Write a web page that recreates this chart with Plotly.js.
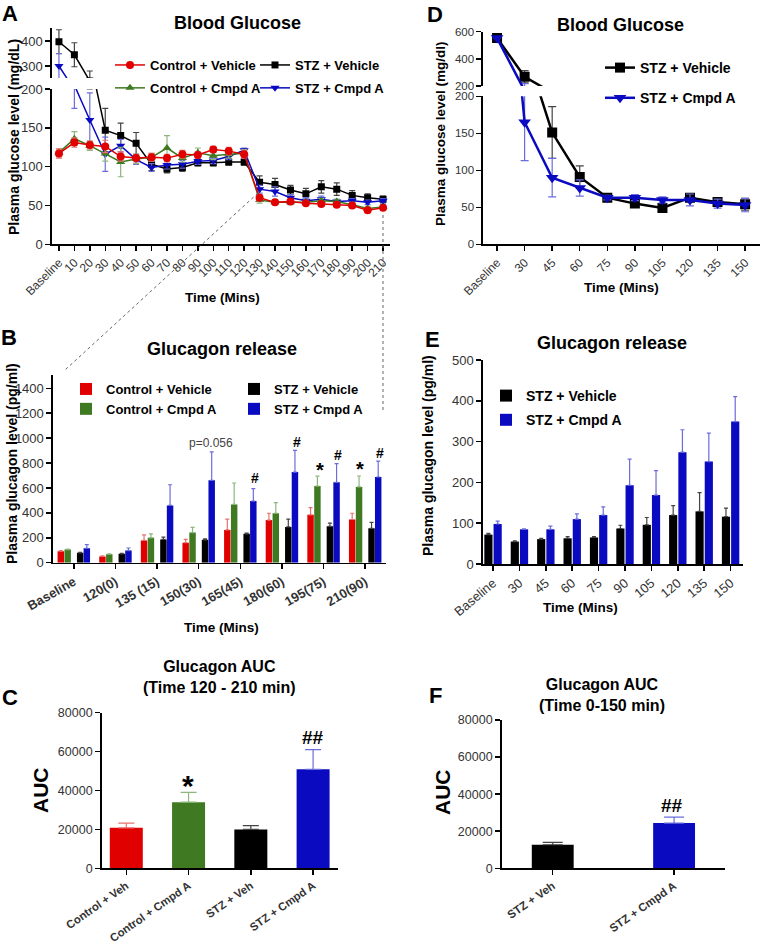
<!DOCTYPE html>
<html><head><meta charset="utf-8">
<script src="https://cdn.plot.ly/plotly-3.0.1.min.js"></script>
<style>html,body{margin:0;padding:0;background:#fff}#chart{width:761px;height:947px}</style>
</head><body><div id="chart"></div>
<script>
// ---------- Panel A: Blood glucose (time course) ----------
const aTimes = ['Baseline','10','20','30','40','50','60','70','80','90','100','110','120','130','140','150','160','170','180','190','200','210'];
const aCtrlVeh    = [117,131,128,126,113,111,112,111,116,115,122,120,116,60,54,55,53,52,51,50,44,47];
const aCtrlVehErr = [6,6,5,8,6,5,5,5,5,4,4,5,5,4,3,3,3,3,3,3,3,3];
const aCtrlCmp    = [118,136,127,117,106,110,112,124,111,118,114,116,117,57,54,54,54,56,55,51,46,48];
const aCtrlCmpErr = [5,9,6,10,19,6,5,16,5,6,5,5,5,4,3,3,3,3,3,3,3,3];
const aStzVeh     = [397,345,240,147,140,130,103,97,99,105,105,106,106,80,77,70,65,74,71,63,60,58];
const aStzVehErr  = [48,48,40,28,16,14,8,5,5,4,4,4,4,8,8,6,7,8,8,6,5,4];
const aStzCmp     = [300,205,160,116,127,109,99,102,103,107,108,113,121,71,68,60,56,58,55,56,54,56];
const aStzCmpErr  = [50,30,35,22,8,6,5,5,5,4,4,4,3,5,6,4,4,4,3,3,3,3];

// ---------- Panel D: Blood glucose (STZ) ----------
const dTimes = ['Baseline','30','45','60','75','90','105','120','135','150'];
const dStzVeh    = [553,268,151,91,63,55,49,63,57,54];
const dStzVehErr = [0,45,35,15,3,4,4,4,4,8];
const dStzCmp    = [553,165,90,76,63,63,60,60,55,53];
const dStzCmpErr = [0,52,26,11,3,4,4,8,6,9];

// ---------- Panel B: Glucagon release ----------
const bTimes = ['Baseline','120(0)','135 (15)','150(30)','165(45)','180(60)','195(75)','210(90)'];
const bCtrlVeh    = [92,50,179,160,263,342,384,347];
const bCtrlVehErr = [5,5,45,27,87,55,58,50];
const bCtrlCmp    = [105,68,200,242,468,397,615,608];
const bCtrlCmpErr = [4,4,32,42,172,85,80,88];
const bStzVeh     = [79,71,187,184,232,287,292,276];
const bStzVehErr  = [5,4,18,8,5,63,26,48];
const bStzCmp     = [116,97,460,662,495,728,645,688];
const bStzCmpErr  = [29,21,166,227,100,174,150,128];

// ---------- Panel E: Glucagon release (STZ) ----------
const eTimes = ['Baseline','30','45','60','75','90','105','120','135','150'];
const eStzVeh    = [72,55,61,63,65,87,96,120,129,116];
const eStzVehErr = [3,2,2,4,2,8,18,23,46,21];
const eStzCmp    = [98,85,85,110,120,193,169,274,251,349];
const eStzCmpErr = [7,1,8,13,20,64,60,55,70,61];

// ---------- Panel C / F: AUC ----------
const cCats = ['Control + Veh','Control + Cmpd A','STZ + Veh','STZ + Cmpd A'];
const cVals = [20800,34000,20000,50900];
const cErr  = [2400,5000,1900,10100];
const fCats = ['STZ + Veh','STZ + Cmpd A'];
const fVals = [12700,24400];
const fErr  = [1300,3200];

// ---------- styling ----------
const W=761,H=947;
const X=p=>p/W, Y=p=>1-p/H;
const FONT='Liberation Sans, Arial, Helvetica, sans-serif';
const RED='#E00000', GREEN='#3F7A22', BLUE='#0A0AC0', BLACK='#000000';
const RED_E='#E87070', GREEN_E='#8DB57C', BLUE_E='#6C6CDC', BLACK_E='#444444';
const cColors=[RED,GREEN,BLACK,BLUE], cErrColors=[RED_E,GREEN_E,BLACK_E,BLUE_E];
const fColors=[BLACK,BLUE], fErrColors=[BLACK_E,BLUE_E];

const traces=[];
function lineTr(name,xs,ys,err,color,ecolor,symbol,msize,lw,xa,ya,leg,show,rank,capw){
  return {type:'scatter',mode:'lines+markers',name:name,x:xs,y:ys,xaxis:xa,yaxis:ya,
    line:{color:color,width:lw},marker:{color:color,symbol:symbol,size:msize},
    error_y:{type:'data',array:err,visible:true,color:ecolor,thickness:1.2,width:capw},
    showlegend:show,legend:leg,legendgroup:name+leg,legendrank:rank,cliponaxis:true};
}
// Panel A: lower and upper (broken axis) segments
const aSeries=[
  ['STZ + Vehicle',aStzVeh,aStzVehErr,BLACK,BLACK_E,'square',7,'legend2',1],
  ['STZ + Cmpd A',aStzCmp,aStzCmpErr,BLUE,BLUE_E,'triangle-down',8,'legend2',2],
  ['Control + Cmpd A',aCtrlCmp,aCtrlCmpErr,GREEN,GREEN_E,'triangle-up',8,'legend',2],
  ['Control + Vehicle',aCtrlVeh,aCtrlVehErr,RED,RED_E,'circle',8,'legend',1]
];
aSeries.forEach(s=>{
  traces.push(lineTr(s[0],aTimes,s[1],s[2],s[3],s[4],s[5],s[6],1.5,'x','y',s[7],true,s[8],3));
  traces.push(lineTr(s[0],aTimes,s[1],s[2],s[3],s[4],s[5],s[6],1.5,'x2','y2',s[7],false,s[8],3));
});
// Panel D
const dSeries=[
  ['STZ + Vehicle',dStzVeh,dStzVehErr,BLACK,BLACK_E,'square',10,1],
  ['STZ + Cmpd A',dStzCmp,dStzCmpErr,BLUE,BLUE_E,'triangle-down',11,2]
];
dSeries.forEach(s=>{
  traces.push(lineTr(s[0],dTimes,s[1],s[2],s[3],s[4],s[5],s[6],2.5,'x3','y3','legend3',true,s[7],4));
  traces.push(lineTr(s[0],dTimes,s[1],s[2],s[3],s[4],s[5],s[6],2.5,'x4','y4','legend3',false,s[7],4));
});
// Bars
function barTr(name,xs,ys,err,color,ecolor,xa,ya,leg,offset,width,rank,capw){
  return {type:'bar',name:name,x:xs,y:ys,xaxis:xa,yaxis:ya,offset:offset,width:width,
    marker:{color:color,line:{width:0}},
    error_y:{type:'data',symmetric:false,array:err,arrayminus:err.map(()=>0),color:ecolor,thickness:1.2,width:capw},
    showlegend:!!leg,legend:leg||'legend',legendgroup:name+(leg||''),legendrank:rank};
}
traces.push(barTr('Control + Vehicle',bTimes,bCtrlVeh,bCtrlVehErr,RED,RED_E,'x5','y5','legend4',-0.39,0.155,1,2));
traces.push(barTr('Control + Cmpd A',bTimes,bCtrlCmp,bCtrlCmpErr,GREEN,GREEN_E,'x5','y5','legend4',-0.225,0.155,2,2));
traces.push(barTr('STZ + Vehicle',bTimes,bStzVeh,bStzVehErr,BLACK,BLACK_E,'x5','y5','legend5',0.075,0.155,1,2));
traces.push(barTr('STZ + Cmpd A',bTimes,bStzCmp,bStzCmpErr,BLUE,BLUE_E,'x5','y5','legend5',0.235,0.155,2,2));
traces.push(barTr('STZ + Vehicle',eTimes,eStzVeh,eStzVehErr,BLACK,BLACK_E,'x6','y6','legend6',-0.33,0.31,1,2));
traces.push(barTr('STZ + Cmpd A',eTimes,eStzCmp,eStzCmpErr,BLUE,BLUE_E,'x6','y6','legend6',0.02,0.31,2,2));
cCats.forEach((c,i)=>{
  traces.push(barTr(c,[c],[cVals[i]],[cErr[i]],cColors[i],cErrColors[i],'x7','y7',null,-0.265,0.53,i,8));
});
fCats.forEach((c,i)=>{
  traces.push(barTr(c,[c],[fVals[i]],[fErr[i]],fColors[i],fErrColors[i],'x8','y8',null,-0.172,0.345,i,10));
});

const tickF=(s,w)=>({family:FONT,size:s,color:'#333',weight:w||'normal'});
function xax(d0,d1,anchor,cats,range,angle,tf,extra){
  return Object.assign({domain:[X(d0),X(d1)],anchor:anchor,type:'category',categoryorder:'array',categoryarray:cats,
    tickmode:'array',tickvals:cats,ticktext:cats,
    range:range,tickangle:angle,tickfont:tf,showline:true,linecolor:'#000',linewidth:1.6,
    ticks:'outside',ticklen:5,tickwidth:1.5,tickcolor:'#000',showgrid:false,zeroline:false,fixedrange:true},extra||{});
}
function yax(p0,p1,anchor,range,tickvals,tf,extra){
  return Object.assign({domain:[Y(p0),Y(p1)],anchor:anchor,range:range,tickvals:tickvals,tickfont:tf,
    showline:true,linecolor:'#000',linewidth:1.6,ticks:'outside',ticklen:5,tickwidth:1.5,tickcolor:'#000',
    showgrid:false,zeroline:false,fixedrange:true},extra||{});
}
const hiddenX=(d0,d1,anchor,cats,range)=>({domain:[X(d0),X(d1)],anchor:anchor,type:'category',categoryorder:'array',
  categoryarray:cats,range:range,visible:false,fixedrange:true});

function ann(text,x,y,size,opts){
  return Object.assign({text:text,x:X(x),y:Y(y),xref:'paper',yref:'paper',showarrow:false,
    xanchor:'center',yanchor:'middle',font:{family:FONT,size:size,color:'#000',weight:'bold'}},opts||{});
}
const legF=(s)=>({family:FONT,size:s,color:'#000',weight:'bold'});
function leg(x,y,s,gap){
  return {x:X(x),y:Y(y),xanchor:'left',yanchor:'top',font:legF(s),bgcolor:'rgba(0,0,0,0)',
    borderwidth:0,tracegroupgap:gap,traceorder:'grouped',itemclick:false,itemdoubleclick:false};
}

const annotations=[
  ann('A',10,13,22), ann('D',435,14,22), ann('B',9,337,22), ann('E',432,339,22), ann('C',10,697,22), ann('F',435,695,22),
  ann('Blood Glucose',237,23,18), ann('Blood Glucose',620,25,18),
  ann('Glucagon release',222,349,18), ann('Glucagon release',612,343,18),
  ann('Glucagon AUC<br>(Time 120 - 210 min)',219,677,16), ann('Glucagon AUC<br>(Time 0-150 min)',602,695,16),
  ann('Plasma glucose level (mg/dL)',14,137,14,{textangle:-90}),
  ann('Plasma glucose level (mg/dl)',440,134,13.5,{textangle:-90}),
  ann('Plasma glucagon level (pg/ml)',12,464,14,{textangle:-90}),
  ann('Plasma glucagon level (pg/ml)',428,456,14,{textangle:-90}),
  ann('AUC',40,790,21,{textangle:-90}), ann('AUC',442,792,21,{textangle:-90}),
  ann('Time (Mins)',222,298,13.5), ann('Time (Mins)',621,287,13.5),
  ann('Time (Mins)',221,627,13.5), ann('Time (Mins)',580,607,13.5),
  ann('p=0.056',211,443,12,{font:{family:FONT,size:12,color:'#444',weight:'normal'}}),
  ann('#',255,478,14), ann('#',297,442,14), ann('#',338,455,14), ann('#',380,453,14),
  ann('*',320,470,20), ann('*',360,469,20),
  ann('*',188,785,30), ann('##',313,737,19), ann('##',672,805,19)
];

const shapes=[
  {type:'line',xref:'paper',yref:'paper',x0:X(258),y0:Y(193),x1:X(65),y1:Y(370),line:{color:'#666',width:1,dash:'dot'}},
  {type:'line',xref:'paper',yref:'paper',x0:X(383),y0:Y(215),x1:X(383),y1:Y(413),line:{color:'#666',width:1,dash:'dot'}}
];

const layout={
  width:W,height:H,margin:{l:0,r:0,t:0,b:0},paper_bgcolor:'#fff',plot_bgcolor:'rgba(0,0,0,0)',
  font:{family:FONT,color:'#000'},barmode:'overlay',showlegend:true,
  xaxis:xax(52,390,'y',aTimes,[-0.45,21.45],-45,tickF(12)),
  yaxis:yax(244.3,89,'x',[0,200],[0,50,100,150,200],tickF(13)),
  xaxis2:hiddenX(52,390,'y2',aTimes,[-0.45,21.45]),
  yaxis2:yax(78,28,'x2',[252,452],[300,400],tickF(13)),
  xaxis3:xax(483,760,'y3',dTimes,[-0.51,9.54],-45,tickF(12)),
  yaxis3:yax(244.3,96.3,'x3',[0,200],[0,50,100,150,200],tickF(11.5)),
  xaxis4:hiddenX(483,760,'y4',dTimes,[-0.51,9.54]),
  yaxis4:yax(86,31.7,'x4',[200,600],[200,400,600],tickF(11.5)),
  xaxis5:xax(53,386,'y5',bTimes,[-0.5,7.5],-30,tickF(13,'bold')),
  yaxis5:yax(562.7,375,'x5',[0,1507],[0,200,400,600,800,1000,1200,1400],tickF(13)),
  xaxis6:xax(483,743,'y6',eTimes,[-0.38,9.47],-40,tickF(13)),
  yaxis6:yax(564,360,'x6',[0,500],[0,100,200,300,400,500],tickF(13)),
  xaxis7:xax(101.7,338,'y7',cCats,[-0.395,3.4],-35,tickF(11.3,'bold')),
  yaxis7:yax(868.3,712.7,'x7',[0,80000],[0,20000,40000,60000,80000],tickF(12.5),{tickformat:'d'}),
  xaxis8:xax(501.7,725,'y8',fCats,[-0.42,1.42],-35,tickF(11.5,'bold')),
  yaxis8:yax(868.3,720,'x8',[0,80000],[0,20000,40000,60000,80000],tickF(12.5),{tickformat:'d'}),
  legend:leg(110,50,13,3),
  legend2:leg(255,50,13,3),
  legend3:leg(600,52,14,9),
  legend4:leg(66,374,13,0),
  legend5:leg(234,374,13,0),
  legend6:leg(486,380,14,3),
  annotations:annotations,shapes:shapes
};
Plotly.newPlot('chart',traces,layout,{displayModeBar:false,staticPlot:true});
</script></body></html>
